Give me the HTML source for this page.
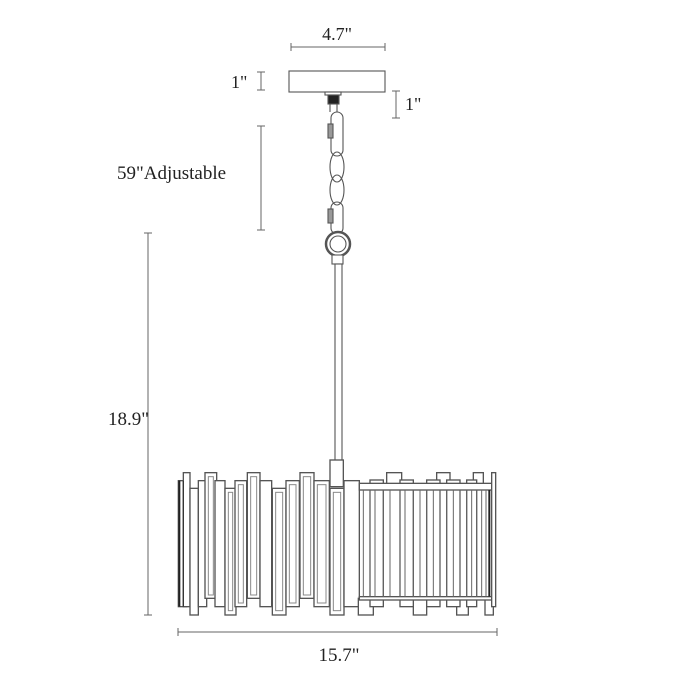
<!DOCTYPE html>
<html><head><meta charset="utf-8"><style>
html,body{margin:0;padding:0;background:#fff;width:675px;height:675px;overflow:hidden}
text{font-family:"Liberation Serif",serif;fill:#222}
</style></head><body>
<svg width="675" height="675" viewBox="0 0 675 675" xmlns="http://www.w3.org/2000/svg">
<g stroke="#666" stroke-width="1" fill="none">
<line x1="291" y1="47" x2="385" y2="47"/><line x1="291" y1="43" x2="291" y2="51"/><line x1="385" y1="43" x2="385" y2="51"/>
<line x1="261" y1="72" x2="261" y2="90"/><line x1="257" y1="72" x2="265" y2="72"/><line x1="257" y1="90" x2="265" y2="90"/>
<line x1="396" y1="91" x2="396" y2="118"/><line x1="392" y1="91" x2="400" y2="91"/><line x1="392" y1="118" x2="400" y2="118"/>
<line x1="261" y1="126" x2="261" y2="230"/><line x1="257" y1="126" x2="265" y2="126"/><line x1="257" y1="230" x2="265" y2="230"/>
<line x1="148" y1="233" x2="148" y2="615"/><line x1="144" y1="233" x2="152" y2="233"/><line x1="144" y1="615" x2="152" y2="615"/>
<line x1="178" y1="632" x2="497" y2="632"/><line x1="178" y1="628" x2="178" y2="636"/><line x1="497" y1="628" x2="497" y2="636"/>
</g>
<text x="337" y="40" font-size="18" text-anchor="middle">4.7"</text>
<text x="231" y="88" font-size="18">1"</text>
<text x="405" y="110" font-size="18">1"</text>
<text x="117" y="179" font-size="19">59"Adjustable</text>
<text x="108" y="425" font-size="19">18.9"</text>
<text x="339" y="661" font-size="19" text-anchor="middle">15.7"</text>

<g stroke="#555" stroke-width="1.1" fill="none">
<rect x="289" y="71" width="96" height="21" fill="#fff"/>
<rect x="325" y="92" width="16" height="3" fill="#fff"/>
<rect x="328" y="95" width="11" height="9" fill="#222"/>
<line x1="330" y1="104" x2="330" y2="112"/><line x1="337" y1="104" x2="337" y2="112"/>
<rect x="331" y="112" width="12" height="44" rx="6"/>
<rect x="328" y="124" width="5" height="14" fill="#999"/>
<ellipse cx="337" cy="167" rx="7" ry="15"/>
<ellipse cx="337" cy="190" rx="7" ry="15"/>
<rect x="331" y="202" width="12" height="32" rx="6"/>
<rect x="328" y="209" width="5" height="14" fill="#999"/>
<circle cx="338" cy="244" r="12" stroke-width="2.5" fill="#fff"/>
<circle cx="338" cy="244" r="8"/>
<rect x="332" y="255" width="11" height="9" fill="#fff"/>
<rect x="335" y="264" width="7" height="198" fill="#fff"/>
</g>

<g transform="translate(170,460) scale(0.33333)" stroke="#555" stroke-width="4" fill="#fff">
<rect x="480" y="0" width="40" height="80"/>
<rect x="25" y="62" width="25" height="378"/>
<rect x="40" y="38" width="20" height="402"/>
<rect x="60" y="85" width="25" height="380"/>
<rect x="85" y="62" width="25" height="378"/>
<rect x="105" y="38" width="35" height="377"/>
<rect x="135" y="62" width="30" height="378"/>
<rect x="165" y="85" width="33" height="380"/>
<rect x="195" y="62" width="35" height="378"/>
<rect x="232" y="38" width="38" height="377"/>
<rect x="270" y="62" width="35" height="378"/>
<rect x="307" y="85" width="41" height="380"/>
<rect x="348" y="62" width="40" height="378"/>
<rect x="390" y="38" width="42" height="377"/>
<rect x="432" y="62" width="46" height="378"/>
<rect x="480" y="85" width="42" height="380"/>
<rect x="522" y="62" width="46" height="378"/>
<rect x="650" y="38" width="45" height="40"/>
<rect x="800" y="38" width="40" height="40"/>
<rect x="910" y="38" width="30" height="40"/>
<rect x="565" y="415" width="45" height="50"/>
<rect x="730" y="415" width="40" height="50"/>
<rect x="860" y="415" width="35" height="50"/>
<rect x="945" y="415" width="25" height="50"/>
<rect x="600" y="60" width="40" height="380"/>
<rect x="690" y="60" width="40" height="380"/>
<rect x="770" y="60" width="40" height="380"/>
<rect x="830" y="60" width="40" height="380"/>
<rect x="890" y="60" width="30" height="380"/>
<rect x="568" y="70" width="402" height="20"/>
<rect x="568" y="410" width="402" height="10"/>
<rect x="965" y="38" width="12" height="402"/>
</g>
<g transform="translate(170,460) scale(0.33333)" stroke="#888" stroke-width="3" fill="none">
<rect x="115" y="50" width="15" height="355"/>
<rect x="242" y="50" width="18" height="355"/>
<rect x="400" y="50" width="22" height="355"/>
<rect x="175" y="97" width="13" height="355"/>
<rect x="317" y="97" width="21" height="355"/>
<rect x="490" y="97" width="22" height="355"/>
<rect x="205" y="74" width="15" height="355"/>
<rect x="358" y="74" width="20" height="355"/>
<rect x="442" y="74" width="26" height="355"/>
</g>
<g transform="translate(170,460) scale(0.33333)" stroke="#666" stroke-width="3">
<line x1="580" y1="90" x2="580" y2="410"/><line x1="600" y1="90" x2="600" y2="410"/>
<line x1="615" y1="90" x2="615" y2="410"/><line x1="640" y1="90" x2="640" y2="410"/>
<line x1="660" y1="90" x2="660" y2="410"/><line x1="690" y1="90" x2="690" y2="410"/>
<line x1="705" y1="90" x2="705" y2="410"/><line x1="730" y1="90" x2="730" y2="410"/>
<line x1="750" y1="90" x2="750" y2="410"/><line x1="770" y1="90" x2="770" y2="410"/>
<line x1="790" y1="90" x2="790" y2="410"/><line x1="810" y1="90" x2="810" y2="410"/>
<line x1="830" y1="90" x2="830" y2="410"/><line x1="850" y1="90" x2="850" y2="410"/>
<line x1="870" y1="90" x2="870" y2="410"/><line x1="890" y1="90" x2="890" y2="410"/>
<line x1="905" y1="90" x2="905" y2="410"/><line x1="920" y1="90" x2="920" y2="410"/>
<line x1="935" y1="90" x2="935" y2="410"/><line x1="948" y1="90" x2="948" y2="410"/>
<line x1="958" y1="90" x2="958" y2="410" stroke="#222" stroke-width="6"/>
<line x1="28" y1="62" x2="28" y2="440" stroke="#222" stroke-width="6"/>
<line x1="40" y1="62" x2="40" y2="440" stroke="#333" stroke-width="4"/>
</g>
</svg>
</body></html>
